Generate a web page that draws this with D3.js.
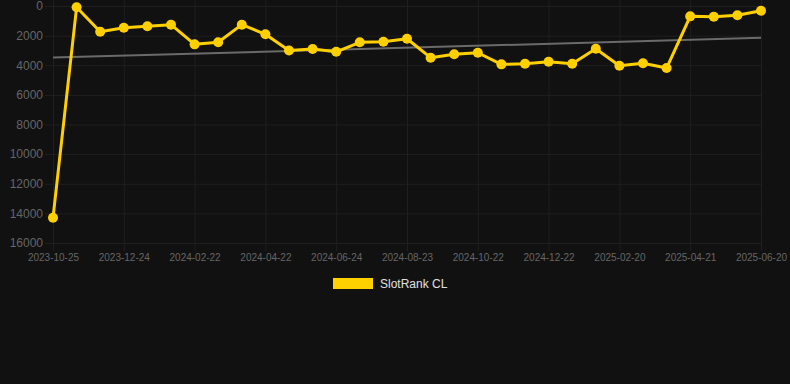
<!DOCTYPE html>
<html>
<head>
<meta charset="utf-8">
<script src="https://cdn.jsdelivr.net/npm/d3@7"></script>
<style>
  html, body { margin: 0; padding: 0; background: #111111; }
  svg { display: block; font-family: Arial, "Liberation Sans", sans-serif; }
</style>
</head>
<body>
<svg class="chart"></svg>
<script>
// dates of each sample (category axis)
const dates = [
  '2023-10-25', '2023-11-14', '2023-12-04', '2023-12-24', '2024-01-13', '2024-02-02',
  '2024-02-22', '2024-03-13', '2024-04-02', '2024-04-22', '2024-05-13', '2024-06-03',
  '2024-06-24', '2024-07-14', '2024-08-03', '2024-08-23', '2024-09-12', '2024-10-02',
  '2024-10-22', '2024-11-11', '2024-12-02', '2024-12-22', '2025-01-11', '2025-01-31',
  '2025-02-20', '2025-03-12', '2025-04-01', '2025-04-21', '2025-05-11', '2025-05-31',
  '2025-06-20'
];
// rank values
const rankValues = [
  14300, 90, 1740, 1470, 1370, 1260, 2590, 2450, 1260, 1910, 3000,
  2905, 3090, 2450, 2410, 2210, 3490, 3260, 3155, 3940, 3900,
  3765, 3900, 2885, 4035, 3870, 4190, 700, 720, 630, 320
];
const xTickLabels = [
  '2023-10-25', '2023-12-24', '2024-02-22', '2024-04-22', '2024-06-24', '2024-08-23',
  '2024-10-22', '2024-12-22', '2025-02-20', '2025-04-21', '2025-06-20'
];
const yTicks = [0, 2000, 4000, 6000, 8000, 10000, 12000, 14000, 16000];
const seriesName = 'SlotRank CL';

const W = 790, H = 384;
const lineColor = '#ffd000';
const gridColor = '#1f1f1f';

const svg = d3.select('.chart').attr('width', W).attr('height', H);
svg.append('rect').attr('width', W).attr('height', H).attr('fill', '#111111');

const x = d3.scalePoint().domain(dates).range([53, 761]);
const y = d3.scaleLinear().domain([0, 16000]).range([6, 243]);

// horizontal grid + y labels
const yAxis = svg.append('g')
  .attr('transform', 'translate(761,0)')
  .call(d3.axisLeft(y).tickValues(yTicks).tickSize(761 - 45).tickPadding(2).tickFormat(d3.format('d')));
yAxis.select('.domain').remove();
yAxis.selectAll('.tick line').attr('stroke', gridColor);
yAxis.selectAll('.tick text').attr('fill', '#666').attr('font-size', 12).attr('x', -(761 - 43));

// vertical grid + x labels
const xAxis = svg.append('g')
  .attr('transform', 'translate(0,251)')
  .call(d3.axisBottom(x).tickValues(xTickLabels).tickSize(-251).tickPadding(3));
xAxis.select('.domain').remove();
xAxis.selectAll('.tick line').attr('stroke', gridColor);
xAxis.selectAll('.tick text').attr('fill', '#666').attr('font-size', 10);

// linear trend (least squares on the series)
const n = rankValues.length;
const idx = d3.range(n);
const mx = d3.mean(idx), my = d3.mean(rankValues);
const slope = d3.sum(idx, i => (i - mx) * (rankValues[i] - my)) / d3.sum(idx, i => (i - mx) * (i - mx));
const icpt = my - slope * mx;
svg.append('line')
  .attr('x1', x(dates[0])).attr('y1', y(icpt))
  .attr('x2', x(dates[n - 1])).attr('y2', y(icpt + slope * (n - 1)))
  .attr('stroke', '#6a6a6a').attr('stroke-width', 2);

// series line
const line = d3.line()
  .x((d, i) => x(dates[i]))
  .y(d => y(d));
svg.append('path')
  .datum(rankValues)
  .attr('fill', 'none')
  .attr('stroke', lineColor)
  .attr('stroke-width', 3)
  .attr('stroke-linejoin', 'round')
  .attr('d', line);

svg.append('g').selectAll('circle')
  .data(rankValues)
  .enter().append('circle')
  .attr('cx', (d, i) => x(dates[i]))
  .attr('cy', d => y(d))
  .attr('r', 5)
  .attr('fill', lineColor);

// legend
const lg = svg.append('g').attr('transform', 'translate(333,278)');
lg.append('rect').attr('width', 40).attr('height', 11).attr('fill', lineColor);
lg.append('text')
  .attr('x', 47).attr('y', 10)
  .attr('fill', '#e0e0e0')
  .attr('font-size', 12)
  .text(seriesName);
</script>
</body>
</html>
